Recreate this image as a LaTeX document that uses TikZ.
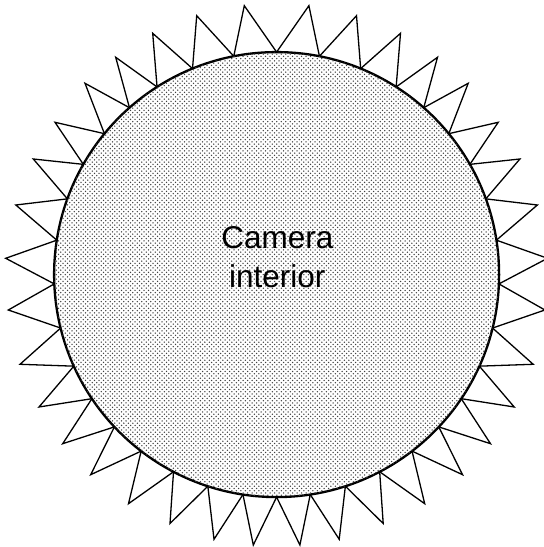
\documentclass[tikz,border=0pt]{standalone}
\usepackage{fontspec}
\setmainfont{Liberation Sans}
\usetikzlibrary{patterns.meta,calc}
\pgfdeclarepattern{
  name=camdots, type=uncolored,
  bottom left={\pgfpoint{-1bp}{-1bp}},
  top right={\pgfpoint{3.5bp}{3.5bp}},
  tile size={\pgfpoint{4.5bp}{4.5bp}},
  code={
    \pgfpathcircle{\pgfpoint{0bp}{0bp}}{0.75bp}
    \pgfpathcircle{\pgfpoint{2.25bp}{2.25bp}}{0.75bp}
    \pgfusepath{fill}
  }
}
\tikzset{
  spike/.style={draw=black, line width=1.3bp, line join=miter, fill=white},
  body/.style={draw=black, line width=2.3bp, fill=white,
    postaction={pattern=camdots, pattern color=black!75}},
  label/.style={font=\fontsize{31.5bp}{39bp}\selectfont, inner sep=0pt, anchor=base}
}
\begin{document}
\begin{tikzpicture}[x=1bp, y=1bp]
  \useasboundingbox (0,0) rectangle (544,547);
  \clip (0,0) rectangle (544,547);
  \coordinate (c) at (276.6,272.4);
  % spikes: base angle from / to, apex (x, y measured from top)
  \foreach \a/\b/\px/\py in {
     90/101.1/244.3/5.7, 101.1/112.2/196.7/15.7, 112.2/122.5/152.7/33.3,
     122.5/131.4/115.7/57.3, 131.4/140.7/85/83.3, 140.7/150.3/55/122.3,
     150.3/160.1/33.3/159, 160.1/171.1/15.8/205, 171.1/182.4/5.7/258.3,
     182.4/193.9/8.3/310, 193.9/204.3/20/364.3, 204.3/213.9/39/407,
     213.9/223.2/62.7/443.7, 223.2/232.5/90.7/474.7, 232.5/242.4/128.5/503.7,
     242.4/252/170/523.5, 252/261.3/214/539.3, 261.3/270/253.3/545}{
    \coordinate (la) at ($(c)+(\a:222.5)$);
    \coordinate (lb) at ($(c)+(\b:222.5)$);
    \coordinate (lp) at ({\px},{547-\py});
    \draw[spike] (la) -- (lp) -- (lb);
    \coordinate (ra) at ($(c)+({180-\a}:222.5)$);
    \coordinate (rb) at ($(c)+({180-\b}:222.5)$);
    \coordinate (rp) at ({553.2-\px},{547-\py});
    \draw[spike] (ra) -- (rp) -- (rb);
  }
  \draw[body] (c) circle (222.5);
  \node[label] (t1) at (277.4,298.7) {Camera};
  \node[label] (t2) at (277.2,259.7) {interior};
\end{tikzpicture}
\end{document}
